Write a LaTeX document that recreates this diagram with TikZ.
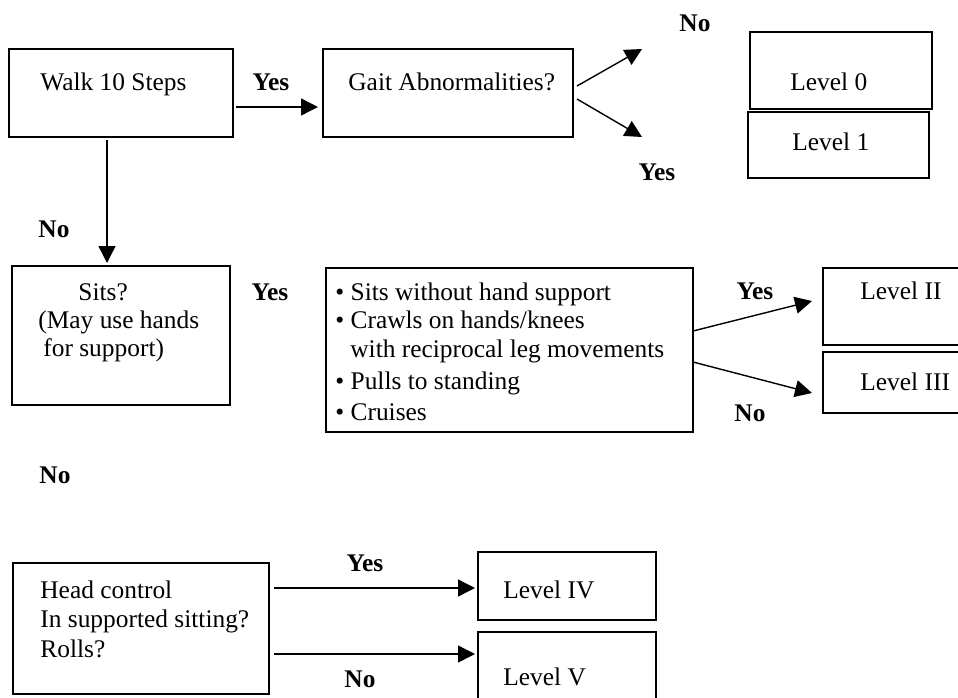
\documentclass[tikz,border=0pt]{standalone}
\usepackage{fontspec}
\setmainfont{Liberation Serif}
\usetikzlibrary{arrows.meta,calc}
\begin{document}
\begin{tikzpicture}[x=0.5pt,y=-0.5pt,
  box/.style={draw, line width=1pt, inner sep=0pt, outer sep=0pt},
  txt/.style={anchor=base west, inner sep=0pt, font=\fontsize{12.7}{15}\selectfont},
  lab/.style={anchor=base, inner sep=0pt, font=\fontsize{12.7}{15}\selectfont\bfseries},
  arr/.style={line width=0.7pt, -{Triangle[length=8.5pt,width=8.5pt]}}]
\useasboundingbox (0,0) rectangle (958,697);
% boxes
\node[box, minimum width=112pt, minimum height=44pt] (walk) at (121,93) {};
\node[box, minimum width=125pt, minimum height=44pt] (gait) at (448,93) {};
\node[box, minimum width=91pt, minimum height=38.5pt] (lv0) at (841,70.5) {};
\node[box, minimum width=90.5pt, minimum height=33pt] (lv1) at (838.5,145) {};
\node[box, minimum width=109pt, minimum height=69.5pt] (sits) at (121,335.5) {};
\node[box, minimum width=183.5pt, minimum height=82pt] (bul) at (509.5,350) {};
\node[box, minimum width=71pt, minimum height=38.5pt] (lv2) at (894,306.5) {};
\node[box, minimum width=71pt, minimum height=30.5pt] (lv3) at (894,382.5) {};
\node[box, minimum width=128pt, minimum height=65.5pt] (head) at (141,628.5) {};
\node[box, minimum width=89pt, minimum height=34pt] (lv4) at (567,586) {};
\node[box, minimum width=89pt, minimum height=39pt] (lv5) at (567,671) {};
% texts
\node[txt] (twalk) at (40,90) {Walk 10 Steps};
\node[txt] (tgait) at (348,90) {Gait Abnormalities?};
\node[txt] (tlv0) at (790,90) {Level 0};
\node[txt] (tlv1) at (792,150) {Level 1};
\node[txt] (tsits1) at (78,300) {Sits?};
\node[txt] (tsits2) at (38,328) {(May use hands};
\node[txt] (tsits3) at (43,356) {for support)};
\node[txt] (tb1) at (335,300) {\textbullet\ Sits without hand support};
\node[txt] (tb2) at (335,328) {\textbullet\ Crawls on hands/knees};
\node[txt] (tb3) at (350,357) {with reciprocal leg movements};
\node[txt] (tb4) at (335,389) {\textbullet\ Pulls to standing};
\node[txt] (tb5) at (335,420) {\textbullet\ Cruises};
\node[txt] (tlv2) at (860,299) {Level II};
\node[txt] (tlv3) at (860,390) {Level III};
\node[txt] (thead1) at (40,598) {Head control};
\node[txt] (thead2) at (40,627) {In supported sitting?};
\node[txt] (thead3) at (40,657) {Rolls?};
\node[txt] (tlv4) at (503,598) {Level IV};
\node[txt] (tlv5) at (503,685) {Level V};
% labels
\node[lab] (l1) at (271,90) {Yes};
\node[lab] (l2) at (695,31) {No};
\node[lab] (l3) at (657,180) {Yes};
\node[lab] (l4) at (54,237) {No};
\node[lab] (l5) at (270,300) {Yes};
\node[lab] (l6) at (755,299) {Yes};
\node[lab] (l7) at (750,421) {No};
\node[lab] (l8) at (55,483) {No};
\node[lab] (l9) at (365,571) {Yes};
\node[lab] (l10) at (360,687) {No};
% free ends
\coordinate (gaitno) at (642,49);
\coordinate (gaityes) at (642,137);
% connectors
\draw[arr] ($(walk.east)+(3,14)$) -- ($(gait.west)+(-5,14)$);
\draw[arr] ($(gait.east)+(4,-7)$) -- (gaitno);
\draw[arr] ($(gait.east)+(4,6)$) -- (gaityes);
\draw[arr] ($(walk.south)+(-14,3)$) -- ($(sits.north)+(-14,-3)$);
\draw[arr] ($(bul.east)+(0,-19)$) -- ($(lv2.west)+(-11,-5.5)$);
\draw[arr] ($(bul.east)+(0,12)$) -- ($(lv3.west)+(-11,10.5)$);
\draw[arr] ($(head.east)+(5,-40.5)$) -- ($(lv4.west)+(-3,2)$);
\draw[arr] ($(head.east)+(5,25.5)$) -- ($(lv5.west)+(-3,-17)$);
\end{tikzpicture}
\end{document}
